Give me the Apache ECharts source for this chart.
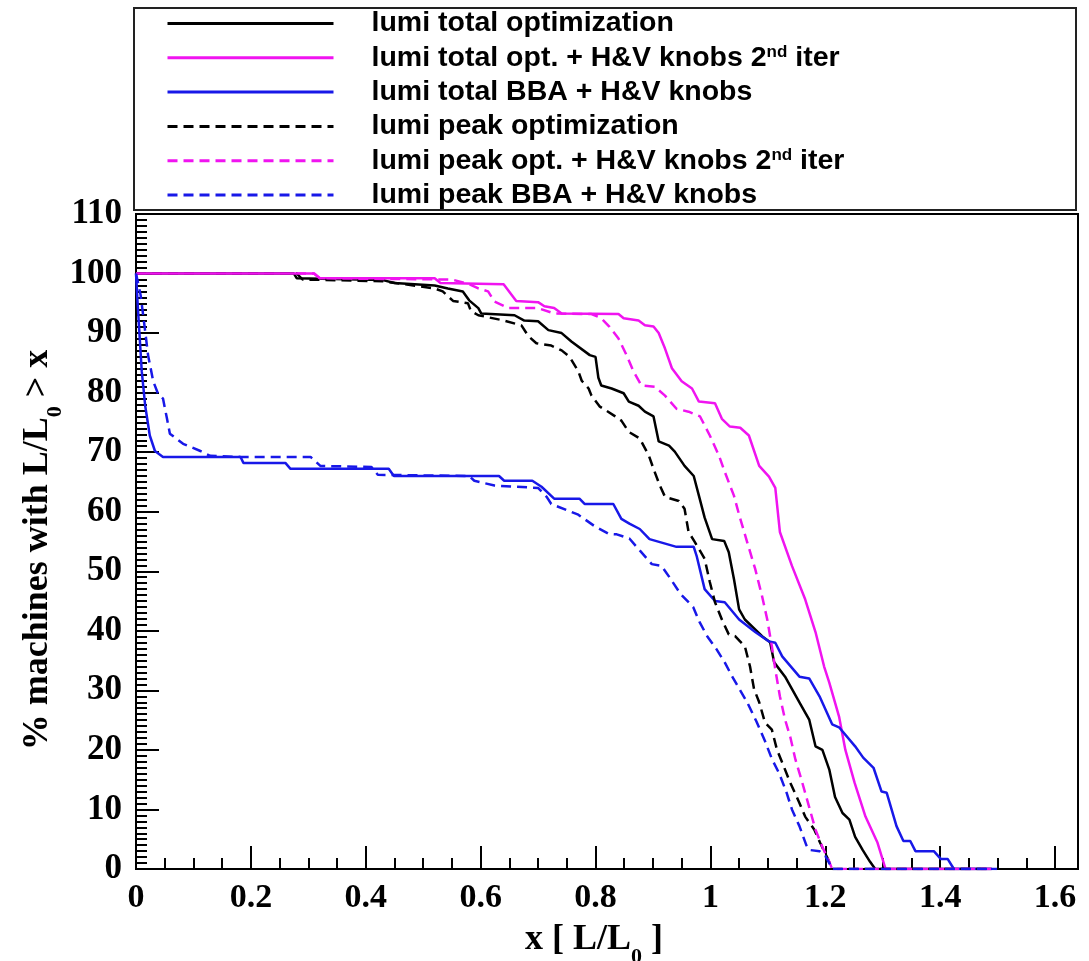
<!DOCTYPE html>
<html>
<head>
<meta charset="utf-8">
<script src="https://cdn.jsdelivr.net/npm/echarts@6/dist/echarts.min.js"></script>
<style>
  html, body { margin: 0; padding: 0; background: #fff; }
  #chart { width: 1089px; height: 961px; }
</style>
</head>
<body>
<div id="chart"></div>
<script>
// Fraction of machines (%) whose luminosity ratio L/L0 exceeds x, per tuning strategy.
const totalOpt = [[0,100],[0.275,100],[0.28,99.2],[0.43,98.9],[0.45,98.4],[0.52,98.0],[0.543,97.5],[0.569,97.0],[0.58,95.5],[0.596,94.2],[0.601,93.3],[0.659,93.0],[0.676,92.1],[0.70,92.0],[0.718,90.5],[0.741,90.0],[0.758,88.6],[0.79,86.3],[0.80,86.0],[0.805,82.5],[0.81,81.2],[0.828,80.7],[0.849,79.9],[0.858,78.5],[0.875,77.8],[0.886,76.8],[0.901,76.0],[0.91,71.8],[0.928,71.1],[0.938,70.1],[0.955,67.7],[0.971,66.0],[0.98,62.7],[0.99,59.0],[1.003,55.4],[1.024,55.1],[1.032,53.2],[1.041,48.7],[1.05,43.6],[1.06,41.9],[1.09,39.1],[1.104,38.1],[1.111,34.7],[1.13,32.3],[1.155,28.0],[1.172,25.1],[1.183,20.6],[1.195,20.0],[1.207,16.7],[1.217,12.1],[1.23,9.4],[1.242,8.3],[1.252,5.4],[1.265,3.2],[1.278,1.2],[1.287,0],[1.49,0]];

const totalOptHV = [[0,100],[0.31,100],[0.32,99.2],[0.52,99.2],[0.53,98.4],[0.64,98.2],[0.662,95.4],[0.70,95.2],[0.711,94.5],[0.728,94.2],[0.741,93.3],[0.84,93.2],[0.849,92.5],[0.875,92.1],[0.886,91.3],[0.901,91.1],[0.91,90.0],[0.921,87.4],[0.933,84.1],[0.95,81.9],[0.968,80.7],[0.98,78.5],[1.008,78.2],[1.02,75.6],[1.034,74.3],[1.052,74.1],[1.067,72.8],[1.085,67.7],[1.102,65.9],[1.113,64.0],[1.121,56.6],[1.142,50.9],[1.165,45.3],[1.183,39.8],[1.198,34.0],[1.207,31.3],[1.224,25.6],[1.235,20.0],[1.251,14.5],[1.27,8.8],[1.291,4.4],[1.305,0],[1.49,0]];

const totalBBA = [[0,100],[0.003,94.7],[0.01,83.6],[0.016,77.8],[0.024,72.8],[0.033,70.2],[0.047,69.2],[0.182,69.2],[0.187,68.2],[0.26,68.2],[0.269,67.2],[0.44,67.2],[0.449,66.0],[0.632,66.0],[0.641,65.2],[0.69,65.2],[0.706,64.2],[0.728,62.2],[0.772,62.2],[0.781,61.3],[0.831,61.3],[0.845,58.8],[0.859,58.0],[0.877,57.1],[0.894,55.4],[0.941,54.1],[0.971,54.1],[0.976,52.6],[0.99,47.0],[1.008,45.0],[1.025,44.8],[1.05,41.9],[1.078,39.8],[1.102,38.2],[1.113,38.0],[1.125,35.7],[1.155,32.3],[1.172,32.0],[1.19,29.0],[1.212,24.3],[1.224,23.8],[1.252,20.6],[1.266,18.7],[1.284,17.0],[1.298,13.0],[1.307,12.8],[1.324,7.2],[1.336,4.7],[1.348,4.7],[1.357,3.0],[1.389,3.0],[1.401,1.7],[1.413,1.7],[1.424,0],[1.499,0]];

const peakOpt = [[0,100],[0.28,100],[0.29,99.0],[0.43,98.7],[0.52,97.5],[0.534,97.0],[0.552,95.4],[0.578,95.0],[0.583,93.7],[0.596,93.0],[0.641,92.1],[0.671,91.3],[0.683,89.5],[0.697,88.3],[0.723,87.9],[0.741,87.1],[0.755,86.0],[0.77,83.6],[0.776,82.0],[0.788,80.7],[0.793,79.5],[0.807,77.7],[0.833,76.1],[0.845,75.3],[0.858,73.4],[0.877,72.3],[0.893,69.4],[0.901,67.2],[0.912,64.4],[0.921,62.5],[0.945,61.8],[0.955,60.5],[0.962,56.6],[0.973,54.9],[0.99,52.1],[0.999,48.2],[1.008,44.8],[1.02,41.9],[1.032,39.4],[1.043,39.1],[1.06,37.4],[1.069,34.0],[1.076,30.2],[1.085,28.0],[1.095,24.6],[1.107,23.4],[1.116,20.0],[1.125,17.9],[1.139,14.5],[1.155,11.1],[1.165,8.8],[1.181,6.6],[1.191,4.4],[1.203,2.0],[1.212,0],[1.49,0]];

const peakOptHV = [[0,100],[0.31,100],[0.32,99.2],[0.55,99.0],[0.58,98.2],[0.596,97.5],[0.613,97.0],[0.624,95.3],[0.648,94.2],[0.70,94.2],[0.728,93.3],[0.793,93.2],[0.81,92.5],[0.824,91.1],[0.84,89.1],[0.854,86.3],[0.866,83.6],[0.88,81.2],[0.903,81.0],[0.921,79.5],[0.941,77.3],[0.962,76.8],[0.982,76.0],[0.999,72.8],[1.015,69.4],[1.025,66.7],[1.041,62.7],[1.05,59.5],[1.064,54.9],[1.078,50.4],[1.09,45.8],[1.099,41.9],[1.107,37.4],[1.113,33.5],[1.121,29.0],[1.13,25.1],[1.139,22.2],[1.148,18.4],[1.16,14.5],[1.172,10.4],[1.183,6.6],[1.195,3.7],[1.207,1.2],[1.212,0],[1.49,0]];

const peakBBA = [[0,100],[0.008,96.4],[0.016,90.3],[0.021,86.3],[0.03,81.9],[0.038,79.9],[0.047,79.0],[0.054,75.6],[0.059,73.1],[0.082,71.4],[0.112,70.2],[0.129,69.4],[0.182,69.2],[0.304,69.2],[0.321,67.7],[0.41,67.5],[0.421,66.2],[0.58,66.0],[0.589,65.2],[0.624,64.4],[0.659,64.2],[0.70,64.0],[0.715,62.5],[0.723,61.3],[0.77,59.5],[0.798,57.6],[0.823,56.3],[0.837,56.2],[0.859,55.5],[0.877,53.5],[0.898,51.2],[0.915,50.9],[0.928,49.1],[0.948,46.2],[0.97,44.0],[0.981,41.5],[0.995,39.0],[1.01,37.0],[1.025,34.7],[1.037,32.5],[1.05,30.3],[1.064,28.0],[1.08,24.8],[1.095,21.5],[1.107,18.5],[1.12,16.0],[1.132,13.0],[1.142,10.0],[1.155,7.2],[1.167,4.0],[1.172,3.2],[1.19,3.0],[1.2,2.2],[1.207,1.0],[1.212,0],[1.49,0]];

// Axis tick positions
const xMajorTicks = [0, 0.2, 0.4, 0.6, 0.8, 1.0, 1.2, 1.4, 1.6];
const xMinorTicks = [0.05,0.1,0.15,0.25,0.3,0.35,0.45,0.5,0.55,0.65,0.7,0.75,0.85,0.9,0.95,1.05,1.1,1.15,1.25,1.3,1.35,1.45,1.5,1.55];

const seriesNames = [
  'lumi total optimization',
  'lumi total opt. + H&V knobs 2nd iter',
  'lumi total BBA + H&V knobs',
  'lumi peak optimization',
  'lumi peak opt. + H&V knobs 2nd iter',
  'lumi peak BBA + H&V knobs'
];
const seriesData = [totalOpt, totalOptHV, totalBBA, peakOpt, peakOptHV, peakBBA];
const seriesColors = ['#000000', '#f014f0', '#1818e8', '#000000', '#f014f0', '#1818e8'];
const seriesDashed = [false, false, false, true, true, true];

const serif = "'Liberation Serif', 'Times New Roman', serif";
const sans = "'Liberation Sans', Arial, sans-serif";

const chart = echarts.init(document.getElementById('chart'));

const series = seriesNames.map((name, i) => ({
  name: name,
  type: 'line',
  xAxisIndex: 0,
  yAxisIndex: 0,
  data: seriesData[i],
  symbol: 'none',
  smooth: false,
  silent: true,
  animation: false,
  lineStyle: {
    color: seriesColors[i],
    width: 2.5,
    type: seriesDashed[i] ? [10, 6] : 'solid'
  },
  itemStyle: { color: seriesColors[i] }
}));

chart.setOption({
  animation: false,
  backgroundColor: '#ffffff',
  grid: {
    left: 136, right: 11, top: 214, bottom: 92,
    show: true, borderColor: '#000', borderWidth: 2, backgroundColor: 'transparent'
  },
  legend: {
    data: seriesNames,
    orient: 'vertical',
    left: 166,
    top: 9,
    padding: 0,
    itemWidth: 166,
    itemHeight: 14,
    itemGap: 5.3,
    selectedMode: false,
    // legend keys show only the line, without a marker
    itemStyle: { opacity: 0 },
    lineStyle: { width: 3 },
    textStyle: {
      fontFamily: sans,
      fontWeight: 'bold',
      fontSize: 28.5,
      lineHeight: 28,
      color: '#000',
      padding: [0, 0, 0, 33],
      rich: {
        sup: { fontFamily: sans, fontWeight: 'bold', fontSize: 17, lineHeight: 17, verticalAlign: 'top', color: '#000' }
      }
    },
    formatter: function (n) { return n.replace('2nd', '2{sup|nd}'); }
  },
  xAxis: [
    {
      type: 'value', min: 0, max: 1.64,
      position: 'bottom',
      axisLine: { show: true, onZero: false, lineStyle: { color: '#000', width: 2 } },
      axisTick: { show: true, inside: true, length: 23, customValues: xMajorTicks, lineStyle: { color: '#000', width: 2 } },
      axisLabel: {
        customValues: xMajorTicks,
        margin: 12,
        fontFamily: serif, fontWeight: 'bold', fontSize: 34, color: '#000',
        formatter: function (v) { return String(Math.round(v * 10) / 10); }
      },
      splitLine: { show: false }
    },
    {
      type: 'value', min: 0, max: 1.64,
      position: 'bottom',
      axisLine: { show: false },
      axisTick: { show: true, inside: true, length: 11, customValues: xMinorTicks, lineStyle: { color: '#000', width: 2 } },
      axisLabel: { show: false },
      splitLine: { show: false }
    }
  ],
  yAxis: {
    type: 'value', min: 0, max: 110, interval: 10,
    axisLine: { show: true, onZero: false, lineStyle: { color: '#000', width: 2 } },
    axisTick: { show: true, inside: true, length: 23, lineStyle: { color: '#000', width: 2 } },
    minorTick: { show: true, splitNumber: 10, length: 11, lineStyle: { color: '#000', width: 2 } },
    axisLabel: { margin: 14, fontFamily: serif, fontWeight: 'bold', fontSize: 35, color: '#000' },
    splitLine: { show: false },
    minorSplitLine: { show: false }
  },
  graphic: [
    {
      type: 'rect', left: 133, top: 7, z: -1,
      shape: { width: 942, height: 202 },
      style: { fill: '#fff', stroke: '#222', lineWidth: 2 }
    },
    {
      type: 'text', x: 38, y: 550, rotation: Math.PI / 2,
      style: {
        text: '% machines with L/L{sub|0} > x',
        x: 0, y: 0, align: 'center', verticalAlign: 'middle',
        fontFamily: serif, fontWeight: 'bold', fontSize: 36, fill: '#000',
        rich: { sub: { fontFamily: serif, fontWeight: 'bold', fontSize: 22, verticalAlign: 'bottom', lineHeight: 22, padding: [0, 0, -10, 0] } }
      }
    },
    {
      type: 'text', x: 594, y: 940,
      style: {
        text: 'x [ L/L{sub|0} ]',
        x: 0, y: 0, align: 'center', verticalAlign: 'middle',
        fontFamily: serif, fontWeight: 'bold', fontSize: 36, fill: '#000',
        rich: { sub: { fontFamily: serif, fontWeight: 'bold', fontSize: 22, verticalAlign: 'bottom', lineHeight: 22, padding: [0, 0, -10, 0] } }
      }
    }
  ],
  series: series
});
</script>
</body>
</html>
